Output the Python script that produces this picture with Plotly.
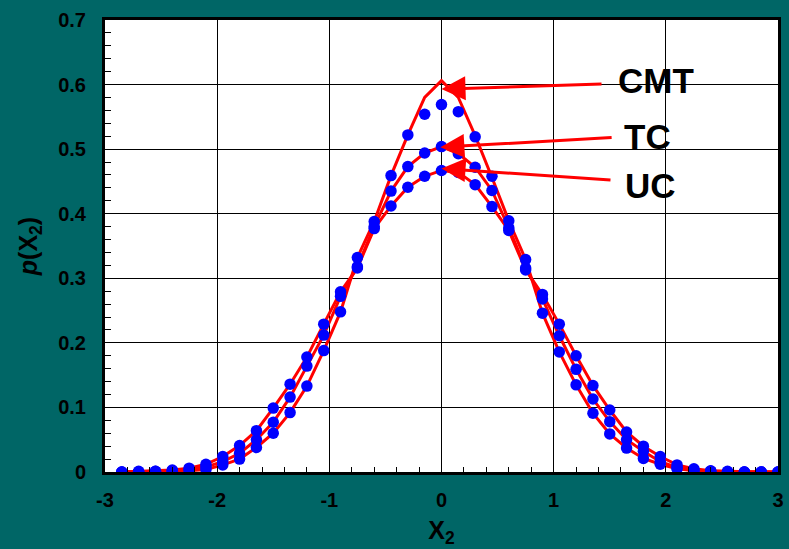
import plotly.graph_objects as go

# ---- data ----
x_vals = [-2.85, -2.70, -2.55, -2.40, -2.25, -2.10, -1.95, -1.80, -1.65, -1.50,
          -1.35, -1.20, -1.05, -0.90, -0.75, -0.60, -0.45, -0.30, -0.15, 0.00,
          0.15, 0.30, 0.45, 0.60, 0.75, 0.90, 1.05, 1.20, 1.35, 1.50,
          1.65, 1.80, 1.95, 2.10, 2.25, 2.40, 2.55, 2.70, 2.85, 3.00]

uc_dots = [0.000, 0.001, 0.001, 0.003, 0.006, 0.012, 0.024, 0.041, 0.064, 0.099,
           0.136, 0.178, 0.229, 0.279, 0.316, 0.377, 0.412, 0.441, 0.458, 0.467,
           0.464, 0.445, 0.411, 0.374, 0.313, 0.275, 0.229, 0.180, 0.134, 0.096,
           0.062, 0.040, 0.024, 0.011, 0.005, 0.002, 0.001, 0.000, 0.000, 0.000]
tc_dots = [0.000, 0.000, 0.001, 0.002, 0.004, 0.008, 0.016, 0.029, 0.050, 0.077,
           0.116, 0.164, 0.212, 0.272, 0.318, 0.380, 0.435, 0.473, 0.494, 0.504,
           0.493, 0.472, 0.436, 0.378, 0.316, 0.268, 0.211, 0.159, 0.113, 0.078,
           0.050, 0.032, 0.016, 0.007, 0.003, 0.001, 0.000, 0.000, 0.000, 0.000]
cmt_dots = [0.000, 0.000, 0.000, 0.001, 0.002, 0.004, 0.011, 0.020, 0.038, 0.060,
            0.092, 0.133, 0.188, 0.248, 0.332, 0.388, 0.459, 0.522, 0.554, 0.569,
            0.558, 0.519, 0.458, 0.389, 0.329, 0.246, 0.186, 0.135, 0.091, 0.059,
            0.037, 0.021, 0.012, 0.005, 0.002, 0.001, 0.000, 0.000, 0.000, 0.000]

uc_line = uc_dots
tc_line = tc_dots
cmt_line = [0.000, 0.000, 0.000, 0.001, 0.002, 0.004, 0.011, 0.020, 0.038, 0.060,
            0.092, 0.133, 0.188, 0.248, 0.332, 0.388, 0.459, 0.522, 0.580, 0.606,
            0.580, 0.521, 0.456, 0.389, 0.329, 0.246, 0.186, 0.135, 0.091, 0.059,
            0.037, 0.021, 0.012, 0.005, 0.002, 0.001, 0.000, 0.000, 0.000, 0.000]

x_ticks = [-3, -2, -1, 0, 1, 2, 3]
x_tick_text = ["-3", "-2", "-1", "0", "1", "2", "3"]
y_ticks = [0, 0.1, 0.2, 0.3, 0.4, 0.5, 0.6, 0.7]
y_tick_text = ["0", "0.1", "0.2", "0.3", "0.4", "0.5", "0.6", "0.7"]
series_labels = ["CMT", "TC", "UC"]

FONT = "Liberation Sans, Arial, sans-serif"

fig = go.Figure()
for yl in [uc_line, tc_line, cmt_line]:
    fig.add_trace(go.Scatter(x=x_vals, y=yl, mode="lines",
                             line=dict(color="#ff0000", width=3),
                             showlegend=False, hoverinfo="skip"))
for yd in [uc_dots, tc_dots, cmt_dots]:
    fig.add_trace(go.Scatter(x=x_vals, y=yd, mode="markers",
                             marker=dict(color="#0000ff", size=11.5),
                             showlegend=False))

# arrows (tip, tail) and labels
arrows = [((0.0, 0.593), (1.44, 0.601), (1.91, 0.607)),
          ((-0.01, 0.503), (1.53, 0.518), (1.84, 0.519)),
          ((0.0, 0.470), (1.52, 0.452), (1.86, 0.444))]
for lab, (tip, tail, txt) in zip(series_labels, arrows):
    fig.add_annotation(x=tip[0], y=tip[1], ax=tail[0], ay=tail[1],
                       xref="x", yref="y", axref="x", ayref="y",
                       text="", showarrow=True, arrowhead=2, arrowsize=1.6,
                       arrowwidth=3, arrowcolor="#ff0000")
    fig.add_annotation(x=txt[0], y=txt[1], xref="x", yref="y", text=lab,
                       showarrow=False,
                       font=dict(family=FONT, size=35, color="black", weight="bold"))

fig.update_layout(
    width=789, height=549,
    paper_bgcolor="#006666", plot_bgcolor="white",
    margin=dict(l=105, r=11, t=20, b=77, autoexpand=False),
    font=dict(family=FONT, color="black"),
)
fig.update_xaxes(
    range=[-3, 3], tickvals=x_ticks, ticktext=x_tick_text,
    tickfont=dict(family=FONT, size=20, color="black", weight="bold"),
    showgrid=True, gridcolor="black", gridwidth=1,
    showline=True, linecolor="black", linewidth=3, mirror=True,
    ticks="inside", ticklen=6, tickcolor="black", ticklabelstandoff=8,
    minor=dict(dtick=0.2, ticks="inside", ticklen=5, tickcolor="black", showgrid=False),
    zeroline=False,
    title=dict(text="X<sub>2</sub>", standoff=12,
               font=dict(family=FONT, size=25, color="black", weight="bold")),
)
fig.update_yaxes(
    range=[0, 0.7], tickvals=y_ticks, ticktext=y_tick_text,
    tickfont=dict(family=FONT, size=20, color="black", weight="bold"),
    showgrid=True, gridcolor="black", gridwidth=1,
    showline=True, linecolor="black", linewidth=3, mirror=True,
    ticks="inside", ticklen=6, tickcolor="black", ticklabelstandoff=12,
    minor=dict(dtick=0.02, ticks="inside", ticklen=6, tickcolor="black", showgrid=False),
    zeroline=False,
    title=dict(text="<i>p</i>(X<sub>2</sub>)", standoff=14,
               font=dict(family=FONT, size=25, color="black", weight="bold")),
)

fig.write_html("out.html")
